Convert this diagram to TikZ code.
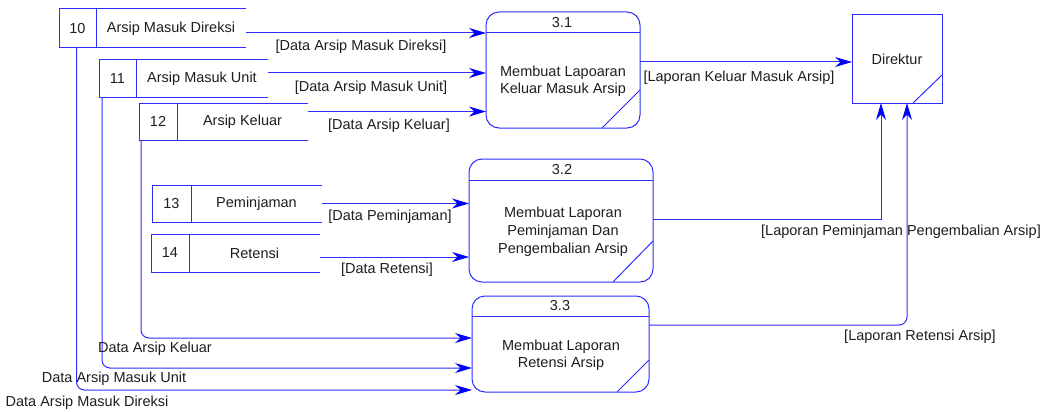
\documentclass[tikz,border=0pt]{standalone}
\usepackage{fontspec}
\setmainfont{Liberation Sans}
\usetikzlibrary{arrows.meta,calc}

\definecolor{dfdline}{RGB}{45,45,255}
\definecolor{dfdhead}{RGB}{0,0,255}
\definecolor{dfdtext}{RGB}{30,30,30}

\begin{document}
\begin{tikzpicture}[x=1pt,y=-1pt,
  every node/.style={font=\fontsize{14.5}{17}\selectfont, text=dfdtext, inner sep=0pt},
  edge/.style={draw=dfdline, line width=1pt},
  flow/.style={edge, -{Stealth[length=17pt,width=10pt,inset=5.5pt,color=dfdhead]}},
  cell/.style={anchor=north west, outer sep=0pt},
  proc/.style={edge, rounded corners=13pt, anchor=north west, outer sep=0pt},
  entity/.style={edge, anchor=north west, outer sep=0pt},
  body/.style={align=center}
]
\useasboundingbox (0,0) rectangle (1052,412);

% ---------- data stores ----------
\node[cell, minimum width=37pt, minimum height=39pt] (n10) at (59,9) {10};
\node[cell, minimum width=150pt, minimum height=39pt] (l10) at (n10.north east) {Arsip Masuk Direksi};
\draw[edge] (l10.north east) -- (n10.north west) -- (n10.south west) -- (l10.south east)
            (n10.north east) -- (n10.south east);

\node[cell, minimum width=37pt, minimum height=37pt] (n11) at (99,60) {11};
\node[cell, minimum width=132pt, minimum height=37pt] (l11) at (n11.north east) {Arsip Masuk Unit};
\draw[edge] (l11.north east) -- (n11.north west) -- (n11.south west) -- (l11.south east)
            (n11.north east) -- (n11.south east);

\node[cell, minimum width=38pt, minimum height=37pt] (n12) at (139,103) {12};
\node[cell, minimum width=131pt, minimum height=37pt] (l12) at (n12.north east) {Arsip Keluar};
\draw[edge] (l12.north east) -- (n12.north west) -- (n12.south west) -- (l12.south east)
            (n12.north east) -- (n12.south east);

\node[cell, minimum width=39pt, minimum height=37pt] (n13) at (152,185) {13};
\node[cell, minimum width=131pt, minimum height=37pt] (l13) at (n13.north east) {Peminjaman};
\draw[edge] (l13.north east) -- (n13.north west) -- (n13.south west) -- (l13.south east)
            (n13.north east) -- (n13.south east);

\node[cell, minimum width=38pt, minimum height=38pt] (n14) at (151,234) {14};
\node[cell, minimum width=131pt, minimum height=38pt] (l14) at (n14.north east) {Retensi};
\draw[edge] (l14.north east) -- (n14.north west) -- (n14.south west) -- (l14.south east)
            (n14.north east) -- (n14.south east);

% ---------- processes ----------
\node[proc, minimum width=154pt, minimum height=116pt] (p31) at (486,12) {};
\draw[edge] ([yshift=-21pt]p31.north west) -- ([yshift=-21pt]p31.north east);
\draw[edge] ([xshift=-38pt]p31.south east) -- ([yshift=38pt]p31.south east);
\node (t31) at (562,23) {3.1};
\node[body] (b31) at (563,81) {Membuat Lapoaran\\Keluar Masuk Arsip};

\node[proc, minimum width=184pt, minimum height=123pt] (p32) at (469,159) {};
\draw[edge] ([yshift=-21pt]p32.north west) -- ([yshift=-21pt]p32.north east);
\draw[edge] ([xshift=-40pt]p32.south east) -- ([yshift=41pt]p32.south east);
\node (t32) at (562,170) {3.2};
\node[body, font=\fontsize{14.5}{18}\selectfont] (b32) at (563,232) {Membuat Laporan\\Peminjaman Dan\\Pengembalian Arsip};

\node[proc, minimum width=177pt, minimum height=96pt] (p33) at (472,296) {};
\draw[edge] ([yshift=-20pt]p33.north west) -- ([yshift=-20pt]p33.north east);
\draw[edge] ([xshift=-32pt]p33.south east) -- ([yshift=32pt]p33.south east);
\node (t33) at (560,306) {3.3};
\node[body] (b33) at (561,355) {Membuat Laporan\\Retensi Arsip};

% ---------- external entity ----------
\node[entity, minimum width=90pt, minimum height=88pt] (dir) at (852,15) {Direktur};
\draw[edge] ([xshift=-29pt]dir.south east) -- ([yshift=28pt]dir.south east);

% ---------- flows into 3.1 ----------
\draw[flow] ([yshift=-4.5pt]l10.east) -- ([yshift=-4.5pt]l10.east -| p31.west);
\draw[flow] ([yshift=5.5pt]l11.east) -- ([yshift=5.5pt]l11.east -| p31.west);
\draw[flow] ([yshift=10pt]l12.east) -- ([yshift=10pt]l12.east -| p31.west);

% ---------- flows into 3.2 ----------
\draw[flow] (l13.east) -- (l13.east -| p32.west);
\draw[flow] ([yshift=-4pt]l14.east) -- ([yshift=-4pt]l14.east -| p32.west);

% ---------- flows into 3.3 ----------
\draw[flow, rounded corners=8pt] ([xshift=-1pt]n10.south) |- ([yshift=2pt]p33.south west);
\draw[flow, rounded corners=8pt] ([xshift=3pt]n11.south west) |- ([yshift=24pt]p33.south west);
\draw[flow, rounded corners=8pt] ([xshift=2pt]n12.south west) |- ([yshift=54pt]p33.south west);

% ---------- flows to Direktur ----------
\draw[flow] ([yshift=8pt]p31.east) -- ([yshift=8pt]p31.east -| dir.west);
\draw[flow] ([yshift=1.5pt]p32.east) -| ([xshift=-16pt]dir.south);
\draw[flow, rounded corners=8pt] ([yshift=19pt]p33.east) -| ([xshift=10pt]dir.south);

% ---------- flow labels ----------
\node (f10) at (361,47) {[Data Arsip Masuk Direksi]};
\node (f11) at (371,88) {[Data Arsip Masuk Unit]};
\node (f12) at (389,126) {[Data Arsip Keluar]};
\node (f13) at (390,217) {[Data Peminjaman]};
\node (f14) at (387,270) {[Data Retensi]};
\node (f31) at (739,78) {[Laporan Keluar Masuk Arsip]};
\node (f32) at (901,232) {[Laporan Peminjaman Pengembalian Arsip]};
\node (f33) at (920,337) {[Laporan Retensi Arsip]};
\node (g12) at (155,349) {Data Arsip Keluar};
\node (g11) at (114,379) {Data Arsip Masuk Unit};
\node (g10) at (87,403) {Data Arsip Masuk Direksi};
\end{tikzpicture}
\end{document}
